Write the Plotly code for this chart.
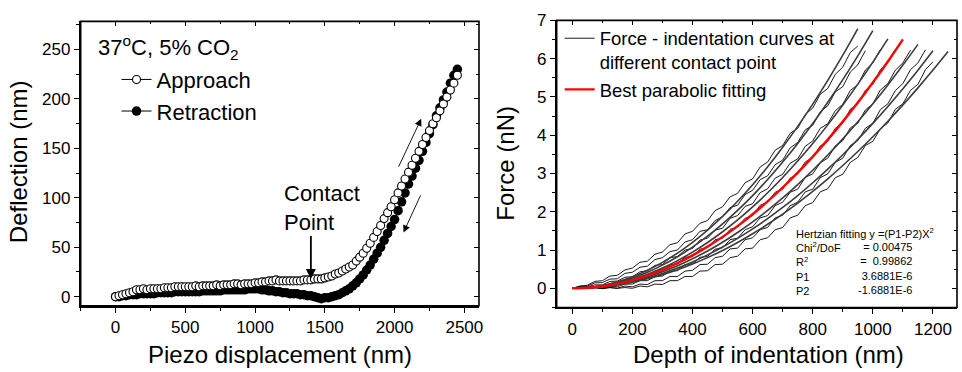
import plotly.graph_objects as go

FONT = "Liberation Sans, Arial, sans-serif"
W, H = 962, 372

# ---------------- Left panel: deflection vs piezo displacement ----------------
piezo_nm = list(range(0, 2451, 25))
approach_nm = [
    0, 1, 2, 3, 4, 5, 7, 7, 8, 7,
    8, 8, 8, 8, 9, 9, 9, 10, 10, 10,
    10, 10, 10, 11, 10, 11, 11, 11, 11, 12,
    11, 12, 12, 12, 13, 13, 12, 13, 13, 13,
    14, 14, 15, 15, 16, 16, 17, 16, 16, 16,
    16, 16, 16, 16, 17, 17, 17, 18, 18, 18,
    19, 20, 21, 23, 24, 26, 28, 30, 32, 36,
    40, 44, 49, 54, 60, 66, 72, 79, 85, 91,
    98, 105, 112, 119, 126, 133, 140, 147, 154, 161,
    168, 175, 181, 188, 195, 202, 209, 216, 224]
retraction_nm = [
    0, 0, 1, 1, 2, 2, 2, 3, 3, 3,
    3, 3, 4, 4, 4, 4, 4, 5, 5, 5,
    5, 5, 5, 5, 5, 6, 6, 6, 6, 6,
    6, 7, 7, 7, 7, 7, 7, 7, 8, 8,
    8, 8, 7, 7, 6, 6, 5, 5, 4, 4,
    3, 3, 3, 2, 2, 1, 1, 0, -1, -2,
    -1, -1, 0, 1, 2, 4, 6, 8, 11, 14,
    18, 22, 27, 32, 38, 44, 50, 57, 64, 71,
    78, 87, 96, 105, 114, 122, 130, 138, 147, 156,
    165, 174, 183, 191, 199, 207, 216, 224, 230]

# ---------------- Right panel: force vs depth of indentation ----------------
depth_25 = list(range(0, 1226, 25))
depth_50 = list(range(0, 1251, 50))

noisy_curves = [
    [0, .06, .08, .18, .20, .32, .34, .48, .53, .68, .71, .89, .95, 1.14, 1.19, 1.42, 1.49, 1.70, 1.77, 2.03,
     2.13, 2.39, 2.48, 2.76, 2.86, 3.17, 3.30, 3.61, 3.73, 4.05, 4.18, 4.54, 4.71, 5.07, 5.22, 5.59, 5.78, 6.16, 6.33],
    [0, .05, .06, .14, .15, .24, .25, .39, .42, .55, .58, .75, .80, .96, 1.00, 1.21, 1.27, 1.49, 1.53, 1.77,
     1.87, 2.11, 2.17, 2.45, 2.56, 2.84, 2.94, 3.23, 3.35, 3.67, 3.81, 4.14, 4.26, 4.61, 4.77, 5.13, 5.27, 5.65, 5.84, 6.21],
    [0, .03, .04, .09, .09, .18, .19, .29, .30, .43, .46, .60, .62, .80, .83, 1.00, 1.04, 1.26, 1.31, 1.52,
     1.57, 1.83, 1.90, 2.14, 2.21, 2.50, 2.60, 2.88, 2.98, 3.27, 3.38, 3.71, 3.85, 4.18, 4.30, 4.64, 4.81, 5.17, 5.32, 5.70,
     5.89, 6.24],
    [0, .02, .01, .05, .04, .11, .11, .20, .20, .31, .33, .45, .46, .61, .64, .81, .83, 1.02, 1.07, 1.27,
     1.31, 1.54, 1.60, 1.83, 1.90, 2.17, 2.25, 2.51, 2.59, 2.88, 2.99, 3.30, 3.42, 3.72, 3.84, 4.18, 4.32, 4.68, 4.82, 5.17,
     5.33, 5.71, 5.90, 6.24],
    [0, .02, .00, .02, .00, .05, .04, .11, .11, .20, .20, .31, .32, .45, .46, .62, .64, .81, .83, 1.02,
     1.06, 1.27, 1.31, 1.53, 1.61, 1.84, 1.90, 2.16, 2.25, 2.51, 2.59, 2.90, 2.99, 3.28, 3.40, 3.72, 3.86, 4.19, 4.31, 4.66,
     4.82, 5.18, 5.35, 5.70, 5.89, 6.22],
    [0, .01, -.01, .02, .00, .02, .00, .06, .04, .11, .10, .20, .20, .31, .31, .45, .47, .62, .63, .80,
     .84, 1.03, 1.05, 1.27, 1.32, 1.53, 1.59, 1.84, 1.91, 2.16, 2.25, 2.52, 2.59, 2.89, 2.99, 3.29, 3.40, 3.73, 3.86, 4.18,
     4.31, 4.67, 4.82, 5.17, 5.35, 5.71, 5.89, 6.23],
    [0, .01, .00, .02, -.01, .02, .00, .02, .00, .06, .04, .11, .10, .20, .20, .31, .31, .45, .46, .62,
     .63, .80, .84, 1.03, 1.05, 1.27, 1.32, 1.53, 1.59, 1.84, 1.91, 2.16, 2.24, 2.52, 2.60, 2.89, 2.98, 3.29, 3.42, 3.73,
     3.84, 4.17, 4.32, 4.68, 4.82, 5.17, 5.33, 5.71, 5.92],
]

fit_curves_gray = [
    [0, 0.019, 0.075, 0.169, 0.301, 0.470, 0.677, 0.921, 1.203, 1.523, 1.880, 2.275, 2.707, 3.177, 3.685,
     4.230, 4.813, 5.433, 6.091, 6.787],
    [0, 0.017, 0.067, 0.151, 0.269, 0.421, 0.606, 0.824, 1.077, 1.363, 1.683, 2.036, 2.423, 2.843, 3.298,
     3.786, 4.307, 4.862, 5.451, 6.074, 6.730],
    [0, 0.015, 0.059, 0.133, 0.236, 0.369, 0.532, 0.724, 0.946, 1.197, 1.478, 1.788, 2.128, 2.497, 2.896,
     3.324, 3.782, 4.270, 4.787, 5.334, 5.910, 6.516],
    [0, 0.012, 0.048, 0.108, 0.193, 0.301, 0.434, 0.590, 0.771, 0.976, 1.205, 1.458, 1.735, 2.036, 2.362,
     2.711, 3.085, 3.482, 3.904, 4.350, 4.820, 5.314, 5.832, 6.374],
    [0, 0.011, 0.043, 0.097, 0.172, 0.269, 0.388, 0.528, 0.690, 0.873, 1.078, 1.304, 1.552, 1.821, 2.112,
     2.424, 2.758, 3.114, 3.491, 3.890, 4.310, 4.752, 5.215, 5.700, 6.206],
    [0, 0.010, 0.040, 0.089, 0.158, 0.248, 0.356, 0.485, 0.634, 0.802, 0.990, 1.198, 1.426, 1.673, 1.940,
     2.228, 2.534, 2.861, 3.208, 3.574, 3.960, 4.366, 4.792, 5.237, 5.702, 6.188],
]
best_fit = [0, 0.013, 0.054, 0.121, 0.215, 0.336, 0.484, 0.659, 0.860, 1.089, 1.344, 1.626, 1.935, 2.271,
            2.634, 3.024, 3.441, 3.884, 4.355, 4.852, 5.376, 5.927, 6.505]

fit_text_labels = ["Hertzian fitting y =(P1-P2)X<sup>2</sup>", "Chi<sup>2</sup>/DoF", "R<sup>2</sup>", "P1", "P2"]
fit_text_values = ["= 0.00475", "=  0.99862", "3.6881E-6", "-1.6881E-6"]

fig = go.Figure()

# left traces (retraction drawn first, approach on top)
fig.add_trace(go.Scatter(
    x=piezo_nm, y=retraction_nm, mode="lines+markers", name="Retraction",
    line=dict(color="black", width=1), marker=dict(symbol="circle", size=9.5, color="black"),
    legend="legend", legendrank=2, xaxis="x", yaxis="y", hoverinfo="skip"))
fig.add_trace(go.Scatter(
    x=piezo_nm, y=approach_nm, mode="lines+markers", name="Approach",
    line=dict(color="black", width=1),
    marker=dict(symbol="circle", size=8, color="white", line=dict(color="black", width=1.1)),
    legend="legend", legendrank=1, xaxis="x", yaxis="y", hoverinfo="skip"))

# right traces
for i, ys in enumerate(noisy_curves):
    fig.add_trace(go.Scatter(
        x=depth_25[:len(ys)], y=ys, mode="lines",
        name="Force - indentation curves at<br>different contact point",
        line=dict(color="black", width=0.9), showlegend=(i == 0), legend="legend2",
        legendrank=1, xaxis="x2", yaxis="y2", hoverinfo="skip"))
for ys in fit_curves_gray:
    fig.add_trace(go.Scatter(
        x=depth_50[:len(ys)], y=ys, mode="lines", line=dict(color="#3c3c3c", width=1.6, shape="spline"),
        showlegend=False, xaxis="x2", yaxis="y2", hoverinfo="skip"))
fig.add_trace(go.Scatter(
    x=depth_50[:len(best_fit)], y=best_fit, mode="lines", name="Best parabolic fitting",
    line=dict(color="#ff0000", width=2.4, shape="spline"), legend="legend2", legendrank=2,
    xaxis="x2", yaxis="y2", hoverinfo="skip"))

# null placeholder traces so the overlay axes carrying the inward top / right ticks get drawn
for xa, ya in [("x3", "y"), ("x", "y3"), ("x4", "y2"), ("x2", "y4")]:
    fig.add_trace(go.Scatter(x=[None], y=[None], mode="lines", xaxis=xa, yaxis=ya, showlegend=False,
                             hoverinfo="skip"))

tickfont = dict(family=FONT, size=17, color="black")


def main_axis(domain, rng, dtick, mdtick, anchor):
    return dict(domain=domain, range=rng, anchor=anchor, showline=True, linecolor="#000000", linewidth=1.6,
                mirror=False, showgrid=False, zeroline=False, ticks="outside", ticklen=5, tickwidth=1.3,
                tickcolor="#000000", tick0=0, dtick=dtick, tickfont=tickfont,
                minor=dict(ticks="outside", ticklen=3, tickwidth=1.2, tickcolor="#000000", dtick=mdtick, tick0=0,
                           showgrid=False))


def mirror_axis(rng, dtick, mdtick, overlaying, side, anchor):
    return dict(range=rng, overlaying=overlaying, side=side, anchor=anchor, showline=False, showgrid=False,
                zeroline=False, ticks="inside", ticklen=5, tickwidth=1.3, tickcolor="#000000", tick0=0,
                dtick=dtick, showticklabels=False,
                minor=dict(ticks="inside", ticklen=3, tickwidth=1.2, tickcolor="#000000", dtick=mdtick, tick0=0,
                           showgrid=False))


LX, LY = [-250, 2605], [-9.2, 278.5]
RX, RY = [-52, 1280], [-0.5, 7]
ldx, ldy = [81 / W, 481 / W], [(H - 305) / H, (H - 12.7) / H]
rdx, rdy = [559 / W, 961 / W], [(H - 306.7) / H, (H - 11.7) / H]

# plot frames (box around each panel)
frames = [dict(type="rect", xref="paper", yref="paper", x0=ldx[0], x1=ldx[1], y0=ldy[0], y1=ldy[1],
               line=dict(color="#000000", width=1.6), fillcolor="rgba(0,0,0,0)", layer="above"),
          dict(type="rect", xref="paper", yref="paper", x0=rdx[0], x1=rdx[1], y0=rdy[0], y1=rdy[1],
               line=dict(color="#000000", width=1.6), fillcolor="rgba(0,0,0,0)", layer="above")]

fig.update_layout(
    width=W, height=H, margin=dict(l=0, r=0, t=0, b=0),
    paper_bgcolor="white", plot_bgcolor="white",
    font=dict(family=FONT, color="black"),
    xaxis=main_axis(ldx, LX, 500, 250, "y"),
    yaxis=main_axis(ldy, LY, 50, 25, "x"),
    xaxis2=main_axis(rdx, RX, 200, 100, "y2"),
    yaxis2=main_axis(rdy, RY, 1, 0.5, "x2"),
    xaxis3=mirror_axis(LX, 500, 250, "x", "top", "y"),
    yaxis3=mirror_axis(LY, 50, 25, "y", "right", "x"),
    xaxis4=mirror_axis(RX, 200, 100, "x2", "top", "y2"),
    yaxis4=mirror_axis(RY, 1, 0.5, "y2", "right", "x2"),
    shapes=frames,
    legend=dict(x=117 / W, y=(H - 51) / H, xanchor="left", yanchor="top", bgcolor="rgba(0,0,0,0)",
                font=dict(family=FONT, size=22, color="black"), tracegroupgap=0),
    legend2=dict(x=562 / W, y=(H - 11) / H, xanchor="left", yanchor="top", bgcolor="rgba(0,0,0,0)",
                 font=dict(family=FONT, size=18.5, color="black"), valign="top", tracegroupgap=0),
    showlegend=True,
)

ann = []
# axis titles
ann.append(dict(text="Piezo displacement (nm)", xref="paper", yref="paper", x=281 / W, y=(H - 355) / H,
                showarrow=False, font=dict(size=24), xanchor="center", yanchor="middle"))
ann.append(dict(text="Deflection (nm)", xref="paper", yref="paper", x=18.5 / W, y=(H - 157) / H,
                showarrow=False, font=dict(size=24), textangle=-90, xanchor="center", yanchor="middle"))
ann.append(dict(text="Depth of indentation (nm)", xref="paper", yref="paper", x=772 / W, y=(H - 355) / H,
                showarrow=False, font=dict(size=24), xanchor="center", yanchor="middle"))
ann.append(dict(text="Force (nN)", xref="paper", yref="paper", x=508 / W, y=(H - 158) / H,
                showarrow=False, font=dict(size=24), textangle=-90, xanchor="center", yanchor="middle"))
# left panel texts
ann.append(dict(text="37<sup>o</sup>C, 5% CO<sub>2</sub>", xref="paper", yref="paper", x=96 / W, y=(H - 40) / H,
                showarrow=False, font=dict(size=22), xanchor="left", yanchor="middle"))
ann.append(dict(text="Contact<br>Point", xref="x", yref="y", x=1193, y=90, showarrow=False, align="left",
                font=dict(size=22), xanchor="left", yanchor="middle"))
ann.append(dict(text="", xref="x", yref="y", x=1400, y=18, axref="x", ayref="y", ax=1400, ay=63,
                showarrow=True, arrowhead=2, arrowsize=1.1, arrowwidth=1.8, arrowcolor="black"))
ann.append(dict(text="", xref="x", yref="y", x=2191, y=180, axref="x", ayref="y", ax=2024, ay=130,
                showarrow=True, arrowhead=2, arrowsize=1.6, arrowwidth=0.9, arrowcolor="black"))
ann.append(dict(text="", xref="x", yref="y", x=2064, y=65, axref="x", ayref="y", ax=2191, ay=104,
                showarrow=True, arrowhead=2, arrowsize=1.6, arrowwidth=0.9, arrowcolor="black"))
# right panel fit text: label column and value column
ann.append(dict(text="<br>".join(fit_text_labels), xref="x2", yref="y2", x=737, y=0.69, showarrow=False,
                font=dict(size=11), align="left", xanchor="left", yanchor="middle"))
ann.append(dict(text="<br>".join(fit_text_values), xref="x2", yref="y2", x=1137, y=0.52, showarrow=False,
                font=dict(size=11), align="right", xanchor="right", yanchor="middle"))

fig.update_layout(annotations=ann)
fig.write_html("out.html")
